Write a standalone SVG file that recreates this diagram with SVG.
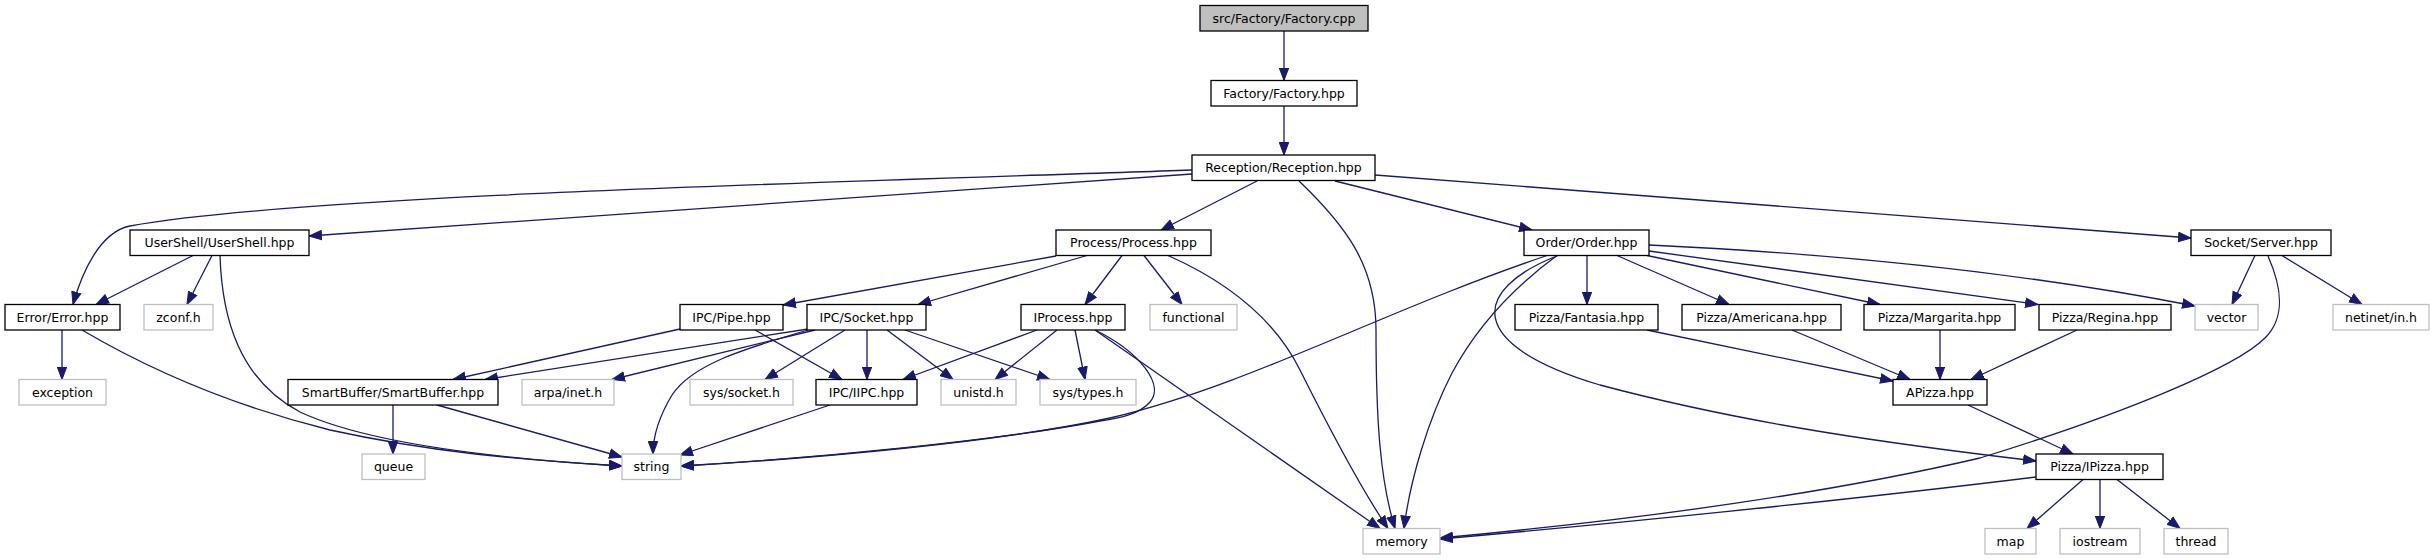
<svg xmlns="http://www.w3.org/2000/svg" width="2435" height="560" viewBox="0 0 2435 560">
<defs>
<style>
.n rect{fill:#ffffff;stroke:#000000;stroke-width:1.3}
.x rect{fill:#ffffff;stroke:#bfbfbf;stroke-width:1.3}
.r rect{fill:#bfbfbf;stroke:#000000;stroke-width:1.3}
text{font-family:"DejaVu Sans","Liberation Sans",sans-serif;font-size:12.5px;fill:#000000;text-anchor:middle}
#edges path{fill:none;stroke:#191970;stroke-width:1.3;marker-end:url(#a)}
</style>
<marker id="a" markerUnits="userSpaceOnUse" markerWidth="14" markerHeight="11" viewBox="0 0 14 11" refX="13" refY="5.5" orient="auto">
<path d="M0.5,0.8 L13,5.5 L0.5,10.2 z" fill="#191970" stroke="#191970" stroke-width="1"/>
</marker>
</defs>
<rect width="2435" height="560" fill="#ffffff"/>
<g id="edges">
<path d="M1284,31 L1284,80.5"/>
<path d="M1284,106 L1284,155"/>
<path d="M1192,170 C850,182 300,195 130,226 C100,232 82,272 73,304.5"/>
<path d="M1192,174 L309,236"/>
<path d="M1257,181 L1161,230"/>
<path d="M1299,181 C1345,225 1376,265 1376,330 C1376,420 1380,480 1395,528.5"/>
<path d="M1335,181 L1532,230"/>
<path d="M1375,175 L2191,238"/>
<path d="M193,255.5 L96,304.5"/>
<path d="M212,255.5 L187,304.5"/>
<path d="M220,255.5 C222,320 240,380 300,412 C360,440 470,457 622,466"/>
<path d="M62,330 L62,379.5"/>
<path d="M82,330 C150,370 230,405 330,430 C430,452 520,460 622,466"/>
<path d="M1056,256 L783,305"/>
<path d="M1087,255.5 L918,304.5"/>
<path d="M1122,255.5 L1085,304.5"/>
<path d="M1144,255.5 L1182,304.5"/>
<path d="M1168,255.5 C1230,283 1275,320 1300,370 C1330,430 1362,490 1388,528.5"/>
<path d="M1547,255.5 C1380,312 1250,385 1110,418 C1000,442 820,458 681,466"/>
<path d="M1557,255.5 C1510,290 1475,330 1452,373 C1428,420 1410,480 1404,528.5"/>
<path d="M1558,255.5 C1470,290 1465,345 1600,385 C1750,425 1900,445 2036,461"/>
<path d="M1587,255.5 L1587,304.5"/>
<path d="M1617,255.5 L1729,304.5"/>
<path d="M1647,255.5 L1880,304.5"/>
<path d="M1649,251 L2038,304.5"/>
<path d="M1649,245 C1800,252 2000,268 2195,306"/>
<path d="M1037,330 L903,379.5"/>
<path d="M1057,330 L995,379.5"/>
<path d="M1075,330 L1085,379.5"/>
<path d="M1095,330 C1140,352 1165,385 1150,402 C1140,414 1120,418 1100,421 C1000,440 820,458 681,466"/>
<path d="M1095,330 L1380,528.5"/>
<path d="M808,329 L485,379.5"/>
<path d="M815,330 L612,379.5"/>
<path d="M808,330 C740,350 692,365 672,395 C660,415 653,435 653,454"/>
<path d="M845,330 L765,379.5"/>
<path d="M867,330 L867,379.5"/>
<path d="M887,330 L953,379.5"/>
<path d="M905,330 L1050,379.5"/>
<path d="M680,329 L453,379.5"/>
<path d="M755,330 L842,379.5"/>
<path d="M830,405 L680,455"/>
<path d="M393,405 L393,454"/>
<path d="M437,405 L622,457"/>
<path d="M1647,330 L1893,381"/>
<path d="M1792,330 L1910,379.5"/>
<path d="M1940,330 L1940,379.5"/>
<path d="M2077,330 L1971,379.5"/>
<path d="M1968,405 L2073,454"/>
<path d="M2083,479.5 L2027,528.5"/>
<path d="M2100,479.5 L2100,528.5"/>
<path d="M2117,479.5 L2180,528.5"/>
<path d="M2036,477 C1850,500 1600,525 1440,539"/>
<path d="M2255,255.5 L2232,304.5"/>
<path d="M2282,255.5 L2362,304.5"/>
<path d="M2268,256 C2283,290 2285,318 2265,338 C2235,368 2120,415 1980,458 C1800,500 1580,525 1440,538"/>
</g>
<g id="n_root" class="r"><rect x="1200" y="5.5" width="168" height="25.5"/><text x="1284" y="22.7">src/Factory/Factory.cpp</text></g>
<g id="n_factory" class="n"><rect x="1211" y="80.5" width="146" height="25.5"/><text x="1284" y="97.7">Factory/Factory.hpp</text></g>
<g id="n_reception" class="n"><rect x="1192" y="155" width="183" height="25.5"/><text x="1283.5" y="172.2">Reception/Reception.hpp</text></g>
<g id="n_error" class="n"><rect x="5" y="304.5" width="115" height="25.5"/><text x="62.5" y="321.7">Error/Error.hpp</text></g>
<g id="n_usershell" class="n"><rect x="130" y="230" width="179" height="25.5"/><text x="219.5" y="247.2">UserShell/UserShell.hpp</text></g>
<g id="n_zconf" class="x"><rect x="144" y="304.5" width="69" height="25.5"/><text x="178.5" y="321.7">zconf.h</text></g>
<g id="n_exception" class="x"><rect x="19" y="379.5" width="87" height="25.5"/><text x="62.5" y="396.7">exception</text></g>
<g id="n_smartbuffer" class="n"><rect x="288" y="379.5" width="210" height="25.5"/><text x="393" y="396.7">SmartBuffer/SmartBuffer.hpp</text></g>
<g id="n_queue" class="x"><rect x="362" y="454" width="63" height="25.5"/><text x="393.5" y="471.2">queue</text></g>
<g id="n_string" class="x"><rect x="622" y="454" width="59" height="25.5"/><text x="651.5" y="471.2">string</text></g>
<g id="n_pipe" class="n"><rect x="680" y="304.5" width="103" height="25.5"/><text x="731.5" y="321.7">IPC/Pipe.hpp</text></g>
<g id="n_socket" class="n"><rect x="807" y="304.5" width="119" height="25.5"/><text x="866.5" y="321.7">IPC/Socket.hpp</text></g>
<g id="n_arpa" class="x"><rect x="522" y="379.5" width="92" height="25.5"/><text x="568" y="396.7">arpa/inet.h</text></g>
<g id="n_syssocket" class="x"><rect x="690" y="379.5" width="103" height="25.5"/><text x="741.5" y="396.7">sys/socket.h</text></g>
<g id="n_iipc" class="n"><rect x="816" y="379.5" width="101" height="25.5"/><text x="866.5" y="396.7">IPC/IIPC.hpp</text></g>
<g id="n_unistd" class="x"><rect x="941" y="379.5" width="75" height="25.5"/><text x="978.5" y="396.7">unistd.h</text></g>
<g id="n_systypes" class="x"><rect x="1040" y="379.5" width="96" height="25.5"/><text x="1088" y="396.7">sys/types.h</text></g>
<g id="n_process" class="n"><rect x="1056" y="230" width="155" height="25.5"/><text x="1133.5" y="247.2">Process/Process.hpp</text></g>
<g id="n_iprocess" class="n"><rect x="1021" y="304.5" width="104" height="25.5"/><text x="1073" y="321.7">IProcess.hpp</text></g>
<g id="n_functional" class="x"><rect x="1150" y="304.5" width="87" height="25.5"/><text x="1193.5" y="321.7">functional</text></g>
<g id="n_memory" class="x"><rect x="1363" y="528.5" width="77" height="25.5"/><text x="1401.5" y="545.7">memory</text></g>
<g id="n_order" class="n"><rect x="1524" y="230" width="125" height="25.5"/><text x="1586.5" y="247.2">Order/Order.hpp</text></g>
<g id="n_fantasia" class="n"><rect x="1515" y="304.5" width="143" height="25.5"/><text x="1586.5" y="321.7">Pizza/Fantasia.hpp</text></g>
<g id="n_americana" class="n"><rect x="1682" y="304.5" width="159" height="25.5"/><text x="1761.5" y="321.7">Pizza/Americana.hpp</text></g>
<g id="n_margarita" class="n"><rect x="1864" y="304.5" width="151" height="25.5"/><text x="1939.5" y="321.7">Pizza/Margarita.hpp</text></g>
<g id="n_regina" class="n"><rect x="2039" y="304.5" width="132" height="25.5"/><text x="2105" y="321.7">Pizza/Regina.hpp</text></g>
<g id="n_apizza" class="n"><rect x="1893" y="379.5" width="94" height="25.5"/><text x="1940" y="396.7">APizza.hpp</text></g>
<g id="n_ipizza" class="n"><rect x="2036" y="454" width="127" height="25.5"/><text x="2099.5" y="471.2">Pizza/IPizza.hpp</text></g>
<g id="n_map" class="x"><rect x="1985" y="528.5" width="51" height="25.5"/><text x="2010.5" y="545.7">map</text></g>
<g id="n_iostream" class="x"><rect x="2060" y="528.5" width="80" height="25.5"/><text x="2100" y="545.7">iostream</text></g>
<g id="n_thread" class="x"><rect x="2164" y="528.5" width="64" height="25.5"/><text x="2196" y="545.7">thread</text></g>
<g id="n_server" class="n"><rect x="2191" y="230" width="140" height="25.5"/><text x="2261" y="247.2">Socket/Server.hpp</text></g>
<g id="n_vector" class="x"><rect x="2195" y="304.5" width="63" height="25.5"/><text x="2226.5" y="321.7">vector</text></g>
<g id="n_netinet" class="x"><rect x="2333" y="304.5" width="96" height="25.5"/><text x="2381" y="321.7">netinet/in.h</text></g>
</svg>
